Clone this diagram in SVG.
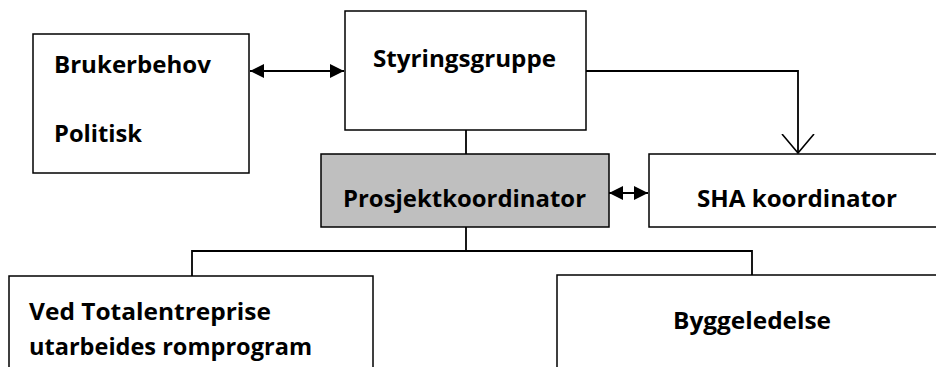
<svg xmlns="http://www.w3.org/2000/svg" width="936" height="367" viewBox="0 0 936 367">
<defs>
<style>
.box{fill:#fff;stroke:#000;stroke-width:1.5}
.grey{fill:#bfbfbf}
.t{font-family:"Open Sans","Liberation Sans",sans-serif;font-weight:bold;font-size:23px;fill:#000}
.c{fill:none;stroke:#000;stroke-width:1.8}
</style>
<marker id="fa" viewBox="0 0 14 14" refX="14" refY="7" markerWidth="14" markerHeight="14" markerUnits="userSpaceOnUse" orient="auto-start-reverse">
<path d="M0,0 L14,7 L0,14 Z" fill="#000"/>
</marker>
<marker id="va" viewBox="0 0 20 34" refX="19" refY="17" markerWidth="20" markerHeight="34" markerUnits="userSpaceOnUse" orient="auto">
<path d="M0,1 L19,17 L0,33" fill="none" stroke="#000" stroke-width="1.6"/>
</marker>
</defs>
<rect width="936" height="367" fill="#fff"/>
<g id="connectors">
<line class="c" x1="250" y1="71" x2="344" y2="71" marker-start="url(#fa)" marker-end="url(#fa)"/>
<line class="c" x1="609" y1="193" x2="648" y2="193" marker-start="url(#fa)" marker-end="url(#fa)"/>
<polyline class="c" points="586,71 798,71 798,153" marker-end="url(#va)"/>
<line class="c" x1="466" y1="130" x2="466" y2="154"/>
<polyline class="c" points="466,227 466,251"/>
<polyline class="c" points="192,276 192,251 752,251 752,275"/>
</g>
<g id="brukerbehov">
<rect class="box" x="33" y="34" width="216" height="139"/>
<text class="t" x="54" y="73" textLength="157" lengthAdjust="spacingAndGlyphs">Brukerbehov</text>
<text class="t" x="54" y="142" textLength="88" lengthAdjust="spacingAndGlyphs">Politisk</text>
</g>
<g id="styringsgruppe">
<rect class="box" x="345" y="11" width="241" height="119"/>
<text class="t" x="373" y="67" textLength="183" lengthAdjust="spacingAndGlyphs">Styringsgruppe</text>
</g>
<g id="prosjektkoordinator">
<rect class="box grey" x="321" y="154" width="288" height="73"/>
<text class="t" x="343" y="207" textLength="243" lengthAdjust="spacingAndGlyphs">Prosjektkoordinator</text>
</g>
<g id="sha">
<rect class="box" x="649" y="154" width="300" height="73"/>
<text class="t" x="697" y="207" textLength="200" lengthAdjust="spacingAndGlyphs">SHA koordinator</text>
</g>
<g id="totalentreprise">
<rect class="box" x="9" y="276" width="364" height="110"/>
<text class="t" x="29" y="320" textLength="242" lengthAdjust="spacingAndGlyphs">Ved Totalentreprise</text>
<text class="t" x="29" y="355" textLength="283" lengthAdjust="spacingAndGlyphs">utarbeides romprogram</text>
</g>
<g id="byggeledelse">
<rect class="box" x="557" y="275" width="400" height="110"/>
<text class="t" x="673" y="329" textLength="158" lengthAdjust="spacingAndGlyphs">Byggeledelse</text>
</g>
</svg>
